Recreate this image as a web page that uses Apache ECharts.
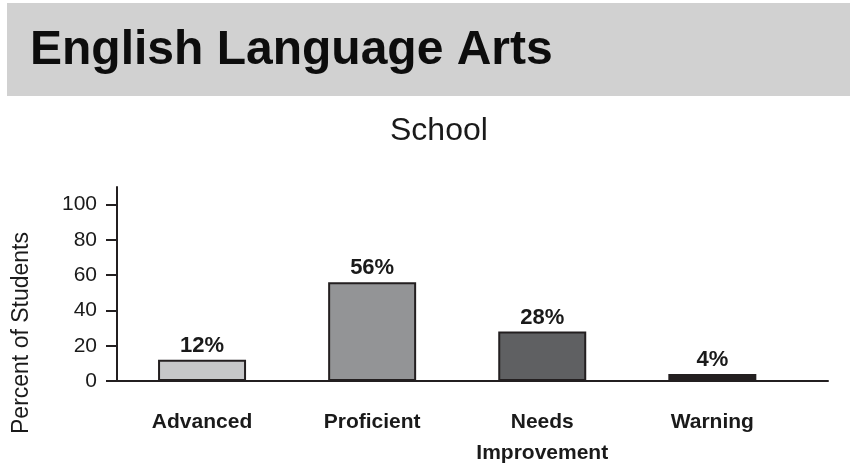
<!DOCTYPE html>
<html>
<head>
<meta charset="utf-8">
<script src="https://cdn.jsdelivr.net/npm/echarts@6/dist/echarts.min.js"></script>
<style>html,body{margin:0;padding:0;background:#fff}#c{width:850px;height:471px}</style>
</head>
<body>
<div id="c"></div>
<script>
var categories = ['Advanced', 'Proficient', 'Needs\nImprovement', 'Warning'];
var values = [12, 56, 28, 4];
var barColors = ['#c6c7c9', '#939496', '#5f6062', '#231f20'];
var positions = [0.5, 1.5, 2.5, 3.5];
var yTicks = [0, 20, 40, 60, 80, 100];
var titleText = 'English Language Arts';
var subtitleText = 'School';
var yAxisName = 'Percent of Students';

var FONT = '"Liberation Sans", Arial, sans-serif';
var chart = echarts.init(document.getElementById('c'), null, {renderer: 'canvas'});
var data = values.map(function (v, i) {
  return {value: [positions[i], v], itemStyle: {color: barColors[i]}};
});
chart.setOption({
  animation: false,
  backgroundColor: '#ffffff',
  graphic: [{
    type: 'rect', left: 7, top: 3, z: -1,
    shape: {width: 843, height: 93},
    style: {fill: '#d1d1d1'}
  }, {
    type: 'text', x: 22, y: 333, rotation: Math.PI / 2,
    style: {
      text: yAxisName, fill: '#1a1a1a', font: '23px ' + FONT,
      align: 'center', verticalAlign: 'middle'
    }
  }],
  title: [{
    text: titleText, left: 25, top: 22,
    textStyle: {fontFamily: FONT, fontWeight: 'bold', fontSize: 48, color: '#0d0d0d'}
  }, {
    text: subtitleText, left: 385, top: 110,
    textStyle: {fontFamily: FONT, fontWeight: 'normal', fontSize: 32, color: '#1a1a1a'}
  }],
  grid: {left: 117, right: 22, top: 187, bottom: 90, containLabel: false},
  xAxis: {
    type: 'value', min: 0, max: 4.18,
    axisLine: {show: true, lineStyle: {color: '#231f20', width: 2}},
    axisTick: {show: false},
    splitLine: {show: false},
    axisLabel: {
      customValues: positions,
      margin: 26,
      fontFamily: FONT, fontWeight: 'bold', fontSize: 21, color: '#1a1a1a', lineHeight: 31,
      formatter: function (v) {
        for (var i = 0; i < positions.length; i++) {
          if (Math.abs(positions[i] - v) < 1e-6) return categories[i];
        }
        return '';
      }
    }
  },
  yAxis: {
    type: 'value', min: 0, max: 110,
    axisLine: {show: true, lineStyle: {color: '#231f20', width: 2}},
    axisTick: {show: true, inside: false, length: 11, customValues: yTicks, lineStyle: {color: '#231f20', width: 2}},
    axisLabel: {customValues: yTicks, margin: 20, fontFamily: FONT, fontSize: 21, color: '#1a1a1a'},
    splitLine: {show: false}
  },
  series: [{
    type: 'bar',
    data: data,
    barWidth: 88,
    itemStyle: {borderColor: '#231f20', borderWidth: 2},
    label: {
      show: true, position: 'top', distance: 3,
      fontFamily: FONT, fontWeight: 'bold', fontSize: 22, color: '#1a1a1a',
      formatter: function (p) { return p.value[1] + '%'; }
    }
  }]
});
</script>
</body>
</html>
